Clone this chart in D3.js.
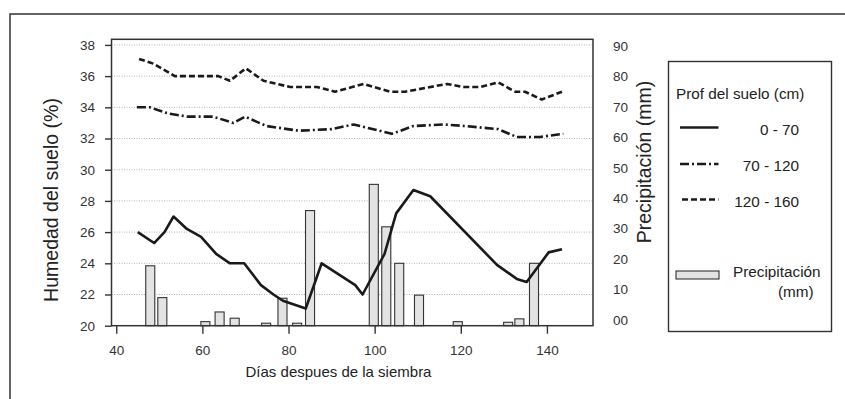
<!DOCTYPE html>
<html>
<head>
<meta charset="utf-8">
<script src="https://cdn.jsdelivr.net/npm/d3@7"></script>
<style>
  body { margin: 0; background: #fff; }
  svg { font-family: "Liberation Sans", Arial, sans-serif; }
</style>
</head>
<body>
<div id="chart"></div>
<script>
// soil moisture (%) by depth, days after sowing
var daysShallow = [45, 48.8, 51.2, 53.3, 56.4, 59.7, 63.2, 66.4, 69.7, 73.6, 76.5, 78.7, 84, 87.7, 95.5, 97.2, 102.3, 105, 109, 112.9, 128.4, 133, 135.3, 140.4, 143.5]
var moistShallow = [26.0, 25.3, 26.0, 27.0, 26.2, 25.7, 24.6, 24.0, 24.0, 22.6, 22.0, 21.6, 21.1, 24.0, 22.6, 22.0, 24.6, 27.2, 28.7, 28.3, 23.9, 23.0, 22.8, 24.7, 24.9]

var daysMid = [44.8, 47.8, 52.1, 56.7, 62.5, 67.2, 69.9, 74.9, 82.3, 90, 95.1, 104, 109, 116, 121, 128.7, 133, 138.4, 143.8]
var moistMid = [34.0, 34.0, 33.6, 33.4, 33.4, 33.0, 33.4, 32.8, 32.5, 32.6, 32.9, 32.3, 32.8, 32.9, 32.8, 32.6, 32.1, 32.1, 32.3]

var daysDeep = [45.3, 48.6, 53.6, 63.7, 66.4, 70.1, 74.2, 80.4, 86.6, 90.8, 97.4, 103.6, 107.1, 116.8, 120.6, 124.5, 128.7, 132.6, 134.9, 138.8, 143.5]
var moistDeep = [37.1, 36.8, 36.0, 36.0, 35.7, 36.5, 35.7, 35.3, 35.3, 35.0, 35.5, 35.0, 35.0, 35.5, 35.3, 35.3, 35.6, 35.0, 35.0, 34.5, 35.0]

// rainfall (mm)
var rainDays = [47.9, 50.7, 60.7, 64.0, 67.5, 74.8, 78.6, 82.0, 85.0, 99.8, 102.7, 105.7, 110.3, 119.3, 131.0, 133.6, 137.0]
var rainMm = [19.2, 9.0, 1.3, 4.4, 2.4, 0.8, 8.8, 0.8, 36.9, 45.3, 31.7, 20.0, 9.8, 1.3, 1.1, 2.2, 20.0]

var xTicks = [40, 60, 80, 100, 120, 140]
var yTicks = [20, 22, 24, 26, 28, 30, 32, 34, 36, 38]
var rainTicks = [0, 10, 20, 30, 40, 50, 60, 70, 80, 90]

var W = 845, H = 399
var plot = {left: 111.5, right: 593, top: 39.3, bottom: 325.7}

var svg = d3.select("#chart").append("svg")
    .attr("width", W)
    .attr("height", H)

// outer frame (cut off at the right and bottom)
svg.append("rect")
    .attr("x", 10).attr("y", 14)
    .attr("width", 850).attr("height", 400)
    .attr("fill", "none")
    .attr("stroke", "#333")
    .attr("stroke-width", 1.5)

var x = d3.scaleLinear().domain([38.9, 150.7]).range([plot.left, plot.right])
var y = d3.scaleLinear().domain([20, 38.36]).range([plot.bottom, plot.top])
var yRain = d3.scaleLinear().domain([0, 18.36 * 5]).range([plot.bottom, plot.top])
// the printed right-hand labels sit a little higher than the bars' zero
var yRainLabels = d3.scaleLinear().domain([0, 90]).range([320, 46])

// grid
svg.append("g")
    .selectAll("line")
    .data(yTicks.slice(1))
    .enter().append("line")
    .attr("x1", plot.left).attr("x2", plot.right)
    .attr("y1", function(d) { return y(d) })
    .attr("y2", function(d) { return y(d) })
    .attr("stroke", "#b5b5b5")
    .attr("stroke-width", 1)
    .attr("stroke-dasharray", "1,1.5")

// rain bars
var barW = x(2.1) - x(0)
svg.append("g")
    .selectAll("rect")
    .data(rainDays)
    .enter().append("rect")
    .attr("x", function(d) { return x(d) - barW / 2 })
    .attr("y", function(d, i) { return yRain(rainMm[i]) })
    .attr("width", barW)
    .attr("height", function(d, i) { return plot.bottom - yRain(rainMm[i]) })
    .attr("fill", "#e3e3e3")
    .attr("stroke", "#333")
    .attr("stroke-width", 1.1)

// moisture lines
var series = [
    {days: daysShallow, vals: moistShallow, dash: null},
    {days: daysMid, vals: moistMid, dash: "9,3,2,3"},
    {days: daysDeep, vals: moistDeep, dash: "6,3"}
]
var line = d3.line()
    .x(function(d) { return x(d[0]) })
    .y(function(d) { return y(d[1]) })

series.forEach(function(s) {
    svg.append("path")
        .attr("d", line(d3.zip(s.days, s.vals)))
        .attr("fill", "none")
        .attr("stroke", "#1a1a1a")
        .attr("stroke-width", 2.6)
        .attr("stroke-linejoin", "round")
        .attr("stroke-dasharray", s.dash)
})

// plot frame
svg.append("rect")
    .attr("x", plot.left).attr("y", plot.top)
    .attr("width", plot.right - plot.left)
    .attr("height", plot.bottom - plot.top)
    .attr("fill", "none")
    .attr("stroke", "#333")
    .attr("stroke-width", 1.5)

// axes
var xAxis = svg.append("g")
    .attr("transform", "translate(0," + plot.bottom + ")")
    .call(d3.axisBottom(x).tickValues(xTicks).tickSize(8).tickPadding(12))
var yAxis = svg.append("g")
    .attr("transform", "translate(" + plot.left + ",0)")
    .call(d3.axisLeft(y).tickValues(yTicks).tickSize(6.5).tickPadding(10))
var rAxis = svg.append("g")
    .attr("transform", "translate(" + plot.right + ",0)")
    .call(d3.axisRight(yRainLabels).tickValues(rainTicks).tickSize(0).tickPadding(20)
        .tickFormat(d3.format("02d")))

;[xAxis, yAxis, rAxis].forEach(function(a) {
    a.select(".domain").remove()
    a.selectAll("line").attr("stroke", "#333").attr("stroke-width", 1.4)
    a.selectAll("text")
        .attr("fill", "#333")
        .style("font-size", "13.5px")
        .style("font-family", "'Liberation Sans', Arial, sans-serif")
})

// axis titles
svg.append("text")
    .attr("transform", "translate(58,200) rotate(-90)")
    .attr("text-anchor", "middle")
    .style("font-size", "19.5px")
    .attr("fill", "#222")
    .text("Humedad del suelo (%)")

svg.append("text")
    .attr("transform", "translate(651,162) rotate(-90)")
    .attr("text-anchor", "middle")
    .style("font-size", "19.5px")
    .attr("fill", "#222")
    .text("Precipitación (mm)")

svg.append("text")
    .attr("x", 338.5).attr("y", 377)
    .attr("text-anchor", "middle")
    .style("font-size", "15px")
    .attr("fill", "#222")
    .text("Días despues de la siembra")

// legend
var lg = svg.append("g")
lg.append("rect")
    .attr("x", 668.5).attr("y", 61.5)
    .attr("width", 163).attr("height", 270)
    .attr("fill", "#fff")
    .attr("stroke", "#333")
    .attr("stroke-width", 1.4)

lg.append("text")
    .attr("x", 676).attr("y", 98.5)
    .style("font-size", "15.3px")
    .attr("fill", "#222")
    .text("Prof del suelo (cm)")

var legItems = [
    {label: "0 - 70", dash: null, y: 127.5},
    {label: "70 - 120", dash: "9,3,2,3", y: 164},
    {label: "120 - 160", dash: "6,3", y: 199.5}
]
legItems.forEach(function(d) {
    lg.append("line")
        .attr("x1", d.dash == "6,3" ? 682 : 680).attr("x2", 718.5)
        .attr("y1", d.y).attr("y2", d.y)
        .attr("stroke", "#1a1a1a")
        .attr("stroke-width", 2.6)
        .attr("stroke-dasharray", d.dash)
    lg.append("text")
        .attr("x", 799).attr("y", d.y + 7)
        .attr("text-anchor", "end")
        .style("font-size", "15.3px")
        .attr("fill", "#222")
        .text(d.label)
})

lg.append("rect")
    .attr("x", 676).attr("y", 271)
    .attr("width", 43).attr("height", 8)
    .attr("fill", "#e3e3e3")
    .attr("stroke", "#333")
    .attr("stroke-width", 1.1)
lg.append("text")
    .attr("x", 733).attr("y", 277)
    .style("font-size", "15.3px")
    .attr("fill", "#222")
    .text("Precipitación")
lg.append("text")
    .attr("x", 778).attr("y", 297)
    .style("font-size", "15.3px")
    .attr("fill", "#222")
    .text("(mm)")
</script>
</body>
</html>
